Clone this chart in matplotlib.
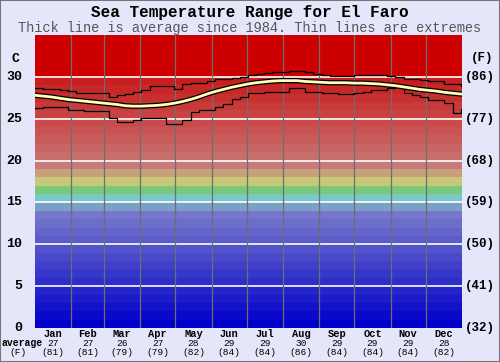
import numpy as np
import matplotlib
matplotlib.use('Agg')
import matplotlib.pyplot as plt
import matplotlib.transforms as mtrans

# weekly readings (day of year, every 7 days), deg C
days = np.arange(0, 365, 7)
avg = [27.8, 27.7, 27.6, 27.45, 27.3, 27.2, 27.1, 27.0, 26.9, 26.8, 26.7, 26.55,
       26.5, 26.5, 26.55, 26.6, 26.7, 26.85, 27.05, 27.3, 27.6, 27.95, 28.25,
       28.5, 28.75, 28.95, 29.15, 29.3, 29.4, 29.5, 29.55, 29.55, 29.55, 29.45,
       29.4, 29.35, 29.3, 29.3, 29.3, 29.25, 29.25, 29.2, 29.15, 29.05, 28.95,
       28.8, 28.65, 28.5, 28.4, 28.3, 28.15, 28.05, 27.95]
tmax = [28.7, 28.6, 28.5, 28.4, 28.3, 28.1, 28.1, 28.1, 28.1, 27.6, 27.8, 28.0,
        28.15, 28.4, 28.85, 28.9, 28.9, 28.5, 29.2, 29.3, 29.3, 29.5, 29.8, 29.8,
        29.85, 30.0, 30.2, 30.4, 30.5, 30.6, 30.6, 30.75, 30.75, 30.6, 30.4,
        30.2, 30.1, 30.1, 30.1, 30.2, 30.2, 30.2, 30.2, 30.1, 29.95, 29.7, 29.7,
        29.6, 29.45, 29.45, 29.1, 29.1, 28.85]
tmin = [26.25, 26.45, 26.45, 26.45, 26.1, 26.05, 25.9, 25.9, 25.9, 25.05, 24.65,
        24.65, 24.85, 25.05, 25.05, 25.05, 24.4, 24.4, 24.85, 25.85, 26.05,
        26.05, 26.45, 26.8, 27.3, 27.55, 28.05, 28.05, 28.25, 28.25, 28.25,
        28.65, 28.65, 28.25, 28.25, 28.05, 28.05, 27.9, 27.95, 28.05, 28.2,
        28.45, 28.45, 28.65, 28.8, 28.05, 27.85, 27.65, 27.25, 27.25, 26.85,
        25.7, 26.2]

months = ['Jan', 'Feb', 'Mar', 'Apr', 'May', 'Jun', 'Jul', 'Aug', 'Sep', 'Oct',
          'Nov', 'Dec']
month_days = [31, 28, 31, 30, 31, 30, 31, 31, 30, 31, 30, 31]
avg_c = [27, 27, 26, 27, 28, 29, 29, 30, 29, 29, 29, 28]
avg_f = [81, 81, 79, 79, 82, 84, 84, 86, 84, 84, 84, 82]
yticks = [0, 5, 10, 15, 20, 25, 30]

# one colour per 1 degree band, 0..34
band_cols = []
for i in range(35):
    if i <= 13:
        f = i / 13
        c = (118 * f, 118 * f, 202)
    elif i >= 30:
        c = (204, 0, 0)
    elif i >= 20:
        f = (i - 20) / 9
        c = (200, 110 - 80 * f, 110 - 80 * f)
    else:
        c = {14: (122, 160, 200), 15: (122, 200, 200), 16: (122, 200, 122),
             17: (200, 200, 122), 18: (200, 160, 122), 19: (200, 122, 122)}[i]
    band_cols.append(tuple(v / 255 for v in c))

mono = 'Liberation Mono'
bg = '#e6e6fa'

fig = plt.figure(figsize=(5, 3.62), dpi=100, facecolor=bg)
ax = fig.add_axes([35 / 500, 34 / 362, 427 / 500, 293 / 362])

for i, col in enumerate(band_cols):
    ax.axhspan(i, i + 1, color=col, lw=0)
for t in yticks[1:]:
    ax.axhline(t, color='white', lw=1.2)
edges = np.cumsum([0] + month_days)
for e in edges[1:-1]:
    ax.axvline(e, color='#6e6e6e', lw=0.9)

xs = np.append(days, 365)
ax.plot(xs, tmax + tmax[-1:], color='black', lw=0.9, drawstyle='steps-post')
ax.plot(xs, tmin + tmin[-1:], color='black', lw=0.9, drawstyle='steps-post')
ax.plot(xs, avg + avg[-1:], color='black', lw=3.8, solid_capstyle='butt')
ax.plot(xs, avg + avg[-1:], color='#ffffb8', lw=2.0, solid_capstyle='butt')

ax.set_xlim(0, 365)
ax.set_ylim(0, 35)
ax.set_xticks([])
ax.set_yticks([])
for s in ax.spines.values():
    s.set_visible(False)

# axis labels, left in C, right in F
for t in yticks:
    ax.text(-0.03, t, str(t), transform=mtrans.blended_transform_factory(ax.transAxes, ax.transData),
            ha='right', va='center', family=mono, weight='bold', fontsize=9.5)
    ax.text(1.007, t, '(%d)' % round(t * 9 / 5 + 32),
            transform=mtrans.blended_transform_factory(ax.transAxes, ax.transData),
            ha='left', va='center', family=mono, weight='bold', fontsize=9)
fig.text(16 / 500, 1 - 59 / 362, 'C', ha='center', va='center', family=mono,
         weight='bold', fontsize=9.5)
fig.text(482 / 500, 1 - 58 / 362, '(F)', ha='center', va='center', family=mono,
         weight='bold', fontsize=9)

# month labels with averages
centers = edges[:-1] + np.array(month_days) / 2
tr = mtrans.blended_transform_factory(ax.transData, fig.transFigure)
for m, c, a, f in zip(months, centers, avg_c, avg_f):
    ax.text(c, 1 - 334 / 362, m, transform=tr, ha='center', va='center',
            family=mono, weight='bold', fontsize=7.5)
    ax.text(c, 1 - 343 / 362, str(a), transform=tr, ha='center', va='center',
            family=mono, fontsize=6.8)
    ax.text(c, 1 - 352.5 / 362, '(%d)' % f, transform=tr, ha='center',
            va='center', family=mono, fontsize=6.8)
fig.text(22 / 500, 1 - 343 / 362, 'average', ha='center', va='center',
         family=mono, weight='bold', fontsize=7)
fig.text(18 / 500, 1 - 352.5 / 362, '(F)', ha='center', va='center',
         family=mono, fontsize=6.8)

fig.text(0.5, 1 - 13 / 362, 'Sea Temperature Range for El Faro', ha='center',
         va='center', family=mono, weight='bold', fontsize=11.5)
fig.text(0.5, 1 - 28 / 362,
         'Thick line is average since 1984. Thin lines are extremes',
         ha='center', va='center', family=mono, color='#555555', fontsize=9.8)

fig.patches.append(plt.Rectangle((0, 0), 1, 1, transform=fig.transFigure,
                                 fill=False, edgecolor='#777777', lw=1.5))

fig.savefig('out.png', dpi=100, facecolor=bg)
